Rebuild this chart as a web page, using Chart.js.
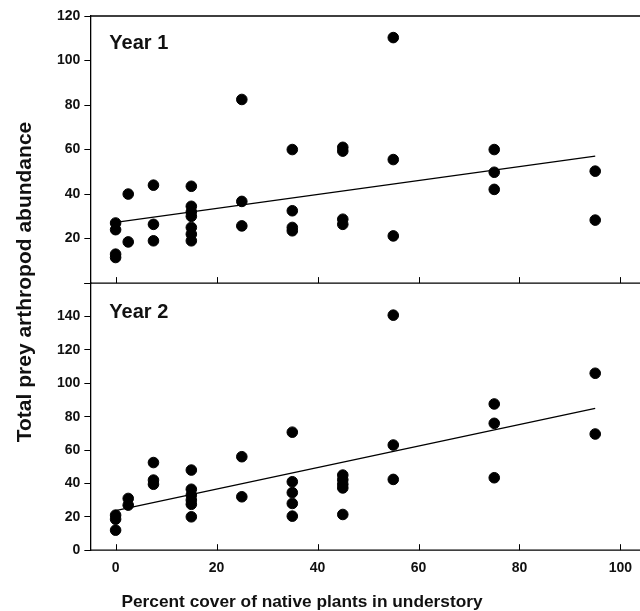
<!DOCTYPE html>
<html>
<head>
<meta charset="utf-8">
<script src="https://cdn.jsdelivr.net/npm/chart.js@4.4.1/dist/chart.umd.min.js"></script>
<style>
  html, body { margin: 0; padding: 0; background: #fff; overflow: hidden; }
  #wrap { width: 640px; height: 611px; overflow: hidden; position: relative; }
  #plot { position: absolute; left: 0; top: 0; }
</style>
</head>
<body>
<div id="wrap"><canvas id="plot" width="652" height="611"></canvas></div>
<script>
// Year 1 observations
const coverY1 = [0, 0, 0, 0, 2.5, 2.5, 7.5, 7.5, 7.5, 15, 15, 15, 15, 15, 15, 15,
                 25, 25, 25, 35, 35, 35, 35, 45, 45, 45, 45, 55, 55, 55, 75, 75, 75, 95, 95];
const abundY1 = [27, 24, 13, 11.5, 40, 18.5, 44, 26.4, 19, 43.5, 34.5, 32, 30, 25, 22, 19,
                 82.5, 36.7, 25.7, 60, 32.5, 25, 23.5, 61, 59.3, 28.7, 26.4, 110.3, 55.5, 21.2, 60, 49.8, 42.1, 50.3, 28.3];

// Year 2 observations
const coverY2 = [0, 0, 0, 2.5, 2.5, 7.5, 7.5, 7.5, 15, 15, 15, 15, 15, 15,
                 25, 25, 35, 35, 35, 35, 35, 45, 45, 45, 45, 45, 55, 55, 55, 75, 75, 75, 95, 95];
const abundY2 = [21, 18.6, 12, 31, 27, 52.5, 42, 39.5, 48, 36.5, 33, 30, 27.5, 20,
                 56, 32, 70.7, 41, 34.5, 28, 20.4, 45, 42.2, 39.5, 37.3, 21.4, 140.8, 63, 42.4, 87.6, 76, 43.4, 106, 69.6];

// fitted regression lines (end points)
const fitX = [0, 95];
const fitY1 = [27.3, 57];
const fitY2 = [23.7, 85];

const xTicks = [0, 20, 40, 60, 80, 100];
const panelLabels = ['Year 1', 'Year 2'];
const xTitle = 'Percent cover of native plants in understory';
const yTitle = 'Total prey arthropod abundance';

const FONT = 'Arial, "Liberation Sans", sans-serif';

function pts(xs, ys) {
  return xs.map((x, i) => ({ x: x, y: ys[i] }));
}

// frame, inside x ticks, panel labels and axis titles
const framePlugin = {
  id: 'frame',
  afterDraw(chart) {
    const c = chart.ctx;
    const xs = chart.scales.x;
    const top = chart.scales.yTop;
    const bot = chart.scales.yBot;
    c.save();
    c.strokeStyle = '#000';
    c.lineWidth = 1.3;
    c.beginPath();
    c.moveTo(xs.left, top.top);
    c.lineTo(xs.right, top.top);
    c.moveTo(xs.left, top.bottom);
    c.lineTo(xs.right, top.bottom);
    c.moveTo(xs.left, bot.bottom);
    c.lineTo(xs.right, bot.bottom);
    c.moveTo(xs.right, top.top);
    c.lineTo(xs.right, bot.bottom);
    c.stroke();
    c.lineWidth = 1;
    c.beginPath();
    xTicks.forEach(v => {
      const px = Math.round(xs.getPixelForValue(v)) + 0.5;
      c.moveTo(px, top.bottom);
      c.lineTo(px, top.bottom - 6);
      c.moveTo(px, bot.bottom);
      c.lineTo(px, bot.bottom - 6);
    });
    c.stroke();

    c.fillStyle = '#111';
    c.font = 'bold 20px ' + FONT;
    c.textBaseline = 'middle';
    c.textAlign = 'left';
    c.fillText(panelLabels[0], xs.left + 19, top.top + 27);
    c.fillText(panelLabels[1], xs.left + 19, bot.top + 29);

    c.textAlign = 'center';
    c.font = 'bold 17.3px ' + FONT;
    c.fillText(xTitle, 302, 602);

    c.font = 'bold 21px ' + FONT;
    c.translate(25, 282);
    c.rotate(-Math.PI / 2);
    c.fillText(yTitle, 0, 0);
    c.restore();
  }
};

const tickFont = { family: FONT, size: 14, weight: 'bold' };

new Chart(document.getElementById('plot'), {
  type: 'scatter',
  data: {
    datasets: [
      { label: 'Year 1', data: pts(coverY1, abundY1), yAxisID: 'yTop',
        backgroundColor: '#000', borderColor: '#000', pointRadius: 5.3, pointHoverRadius: 5.3 },
      { label: 'Year 2', data: pts(coverY2, abundY2), yAxisID: 'yBot',
        backgroundColor: '#000', borderColor: '#000', pointRadius: 5.3, pointHoverRadius: 5.3 },
      { label: 'Fit 1', type: 'line', data: pts(fitX, fitY1), yAxisID: 'yTop',
        borderColor: '#000', borderWidth: 1.3, pointRadius: 0, fill: false },
      { label: 'Fit 2', type: 'line', data: pts(fitX, fitY2), yAxisID: 'yBot',
        borderColor: '#000', borderWidth: 1.3, pointRadius: 0, fill: false }
    ]
  },
  options: {
    responsive: false,
    animation: false,
    layout: { padding: { top: 16, right: 4, left: 53, bottom: 24 } },
    plugins: { legend: { display: false }, tooltip: { enabled: false } },
    scales: {
      x: {
        type: 'linear', min: -5, max: 105,
        grid: { display: false, drawTicks: false },
        border: { display: false },
        afterBuildTicks: axis => { axis.ticks = xTicks.map(v => ({ value: v })); },
        ticks: { font: tickFont, color: '#111', padding: 10, maxRotation: 0, autoSkip: false }
      },
      yBot: {
        type: 'linear', position: 'left', stack: 'panels', stackWeight: 1,
        min: 0, max: 160,
        grid: { drawOnChartArea: false, drawTicks: true, tickLength: 6, color: '#000' },
        border: { display: true, color: '#000', width: 1.3 },
        ticks: { stepSize: 20, font: tickFont, color: '#111', padding: 4, autoSkip: false,
                 callback: v => (v === 160 ? '' : v) }
      },
      yTop: {
        type: 'linear', position: 'left', stack: 'panels', stackWeight: 1,
        min: 0, max: 120,
        grid: { drawOnChartArea: false, drawTicks: true, tickLength: 6, color: '#000' },
        border: { display: true, color: '#000', width: 1.3 },
        ticks: { stepSize: 20, font: tickFont, color: '#111', padding: 4, autoSkip: false,
                 callback: v => (v === 0 ? '' : v) }
      }
    }
  },
  plugins: [framePlugin]
});
</script>
</body>
</html>
